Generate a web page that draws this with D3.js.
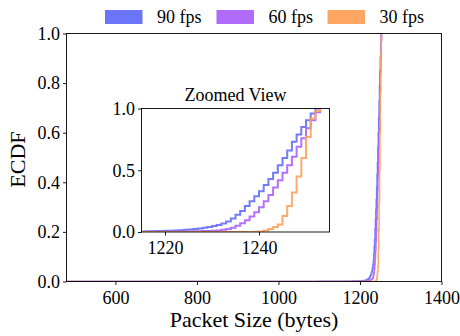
<!DOCTYPE html>
<html>
<head>
<meta charset="utf-8">
<script src="https://cdn.jsdelivr.net/npm/d3@7"></script>
<style>
  html, body { margin: 0; padding: 0; background: #fff; }
  svg text { font-family: "Liberation Serif", "Times New Roman", serif; fill: #000; }
</style>
</head>
<body>
<svg id="chart" width="460" height="336"></svg>
<script>
// Packet sizes (bytes) at which the empirical CDFs are evaluated
const sizes = [480, 1100, 1180, 1200, 1208,
  1214, 1215, 1216, 1217, 1218, 1219, 1220, 1221, 1222, 1223,
  1224, 1225, 1226, 1227, 1228, 1229, 1230, 1231, 1232, 1233,
  1234, 1235, 1236, 1237, 1238, 1239, 1240, 1241, 1242, 1243,
  1244, 1245, 1246, 1247, 1248, 1249, 1250, 1251, 1252, 1253];

// ECDF of packet sizes for each frame rate
const ecdf90 = [0, 0.001, 0.002, 0.003, 0.004,
  0.005, 0.005, 0.006, 0.007, 0.008, 0.009, 0.010, 0.011, 0.013, 0.015,
  0.018, 0.021, 0.025, 0.029, 0.034, 0.040, 0.048, 0.057, 0.068, 0.085,
  0.11, 0.14, 0.17, 0.21, 0.25, 0.29, 0.33, 0.38, 0.43, 0.48,
  0.54, 0.60, 0.66, 0.73, 0.79, 0.85, 0.905, 0.96, 1.0, 1.0];
const ecdf60 = [0, 0, 0.0005, 0.001, 0.001,
  0.001, 0.001, 0.001, 0.002, 0.002, 0.002, 0.003, 0.003, 0.004, 0.004,
  0.005, 0.005, 0.006, 0.007, 0.008, 0.009, 0.011, 0.013, 0.018, 0.025,
  0.035, 0.05, 0.07, 0.095, 0.125, 0.16, 0.20, 0.25, 0.30, 0.36,
  0.42, 0.48, 0.54, 0.61, 0.69, 0.76, 0.84, 0.905, 0.97, 1.0];
const ecdf30 = [0, 0, 0, 0, 0,
  0, 0, 0, 0, 0, 0, 0, 0, 0, 0,
  0, 0, 0, 0, 0, 0, 0, 0, 0, 0,
  0, 0, 0, 0, 0.001, 0.002, 0.005, 0.012, 0.025, 0.04,
  0.06, 0.13, 0.21, 0.32, 0.45, 0.60, 0.77, 0.92, 0.98, 1.0];

const seriesNames = ["90 fps", "60 fps", "30 fps"];
const seriesColors = ["#636EFA", "#AB63FA", "#FFA15A"];
const seriesValues = [ecdf90, ecdf60, ecdf30];

const mainXTicks = [600, 800, 1000, 1200, 1400];
const mainYTicks = [0, 0.2, 0.4, 0.6, 0.8, 1.0];
const zoomXTicks = [1220, 1240];
const zoomYTicks = [0, 0.5, 1.0];

const series = seriesNames.map((name, i) => ({
  name,
  color: seriesColors[i],
  points: sizes.map((s, j) => [s, seriesValues[i][j]])
}));

const svg = d3.select("#chart");

// ---------- main axes ----------
const M = { left: 66.5, right: 441.5, top: 33.5, bottom: 281.5 };
const x = d3.scaleLinear().domain([480, 1400]).range([M.left, M.right]);
const y = d3.scaleLinear().domain([0, 1]).range([M.bottom, M.top]);

svg.append("defs").append("clipPath").attr("id", "clipMain")
  .append("rect").attr("x", M.left).attr("y", M.top)
  .attr("width", M.right - M.left).attr("height", M.bottom - M.top);

const mainLine = d3.line().curve(d3.curveStepAfter)
  .x(d => x(d[0])).y(d => y(d[1]));

const gMain = svg.append("g").attr("clip-path", "url(#clipMain)");
series.forEach(s => {
  gMain.append("path").attr("d", mainLine(s.points))
    .attr("fill", "none").attr("stroke", s.color)
    .attr("stroke-opacity", 0.9).attr("stroke-width", 1.6);
});

function styleAxis(g, size) {
  g.select(".domain").remove();
  g.selectAll(".tick line").attr("stroke", "#000").attr("stroke-width", 0.9);
  g.selectAll(".tick text").attr("font-size", size)
    .attr("font-family", "Liberation Serif, serif").attr("fill", "#000");
}

svg.append("g").attr("transform", `translate(0,${M.bottom})`)
  .call(d3.axisBottom(x).tickValues(mainXTicks).tickSize(3.5).tickPadding(6)
    .tickFormat(d3.format("d")))
  .call(g => styleAxis(g, 18));

svg.append("g").attr("transform", `translate(${M.left},0)`)
  .call(d3.axisLeft(y).tickValues(mainYTicks).tickSize(3.5).tickPadding(3)
    .tickFormat(d3.format(".1f")))
  .call(g => styleAxis(g, 18));

svg.append("rect").attr("x", M.left).attr("y", M.top)
  .attr("width", M.right - M.left).attr("height", M.bottom - M.top)
  .attr("fill", "none").attr("stroke", "#000").attr("stroke-width", 0.9);

svg.append("text").attr("x", (M.left + M.right) / 2).attr("y", 327)
  .attr("text-anchor", "middle").attr("font-size", 22)
  .text("Packet Size (bytes)");

svg.append("text")
  .attr("transform", `translate(25,${(M.top + M.bottom) / 2 + 2}) rotate(-90)`)
  .attr("text-anchor", "middle").attr("font-size", 22)
  .text("ECDF");

// ---------- legend ----------
const legendX = [105, 216.5, 327.5];
const legend = svg.append("g");
series.forEach((s, i) => {
  legend.append("rect").attr("x", legendX[i]).attr("y", 10)
    .attr("width", 37.5).attr("height", 14)
    .attr("fill", s.color).attr("fill-opacity", 0.95);
  legend.append("text").attr("x", legendX[i] + 52).attr("y", 23)
    .attr("font-size", 18).text(s.name);
});

// ---------- zoomed inset ----------
const Z = { left: 141.5, right: 329.5, top: 108.5, bottom: 232 };
const xz = d3.scaleLinear().domain([1215, 1255]).range([Z.left, Z.right]);
const yz = d3.scaleLinear().domain([0, 1]).range([Z.bottom, Z.top]);

svg.select("defs").append("clipPath").attr("id", "clipZoom")
  .append("rect").attr("x", Z.left).attr("y", Z.top)
  .attr("width", Z.right - Z.left).attr("height", Z.bottom - Z.top);

svg.append("rect").attr("x", Z.left).attr("y", Z.top)
  .attr("width", Z.right - Z.left).attr("height", Z.bottom - Z.top)
  .attr("fill", "#fff");

const zoomLine = d3.line().curve(d3.curveStepAfter)
  .x(d => xz(d[0])).y(d => yz(d[1]));

const gZoom = svg.append("g").attr("clip-path", "url(#clipZoom)");
series.forEach(s => {
  gZoom.append("path").attr("d", zoomLine(s.points))
    .attr("fill", "none").attr("stroke", s.color)
    .attr("stroke-opacity", 0.9).attr("stroke-width", 2);
});

svg.append("g").attr("transform", `translate(0,${Z.bottom})`)
  .call(d3.axisBottom(xz).tickValues(zoomXTicks).tickSize(3.5).tickPadding(6)
    .tickFormat(d3.format("d")))
  .call(g => styleAxis(g, 18));

svg.append("g").attr("transform", `translate(${Z.left},0)`)
  .call(d3.axisLeft(yz).tickValues(zoomYTicks).tickSize(3.5).tickPadding(3)
    .tickFormat(d3.format(".1f")))
  .call(g => styleAxis(g, 18));

svg.append("rect").attr("x", Z.left).attr("y", Z.top)
  .attr("width", Z.right - Z.left).attr("height", Z.bottom - Z.top)
  .attr("fill", "none").attr("stroke", "#000").attr("stroke-width", 0.9);

svg.append("text").attr("x", (Z.left + Z.right) / 2).attr("y", 101)
  .attr("text-anchor", "middle").attr("font-size", 18)
  .text("Zoomed View");
</script>
</body>
</html>
